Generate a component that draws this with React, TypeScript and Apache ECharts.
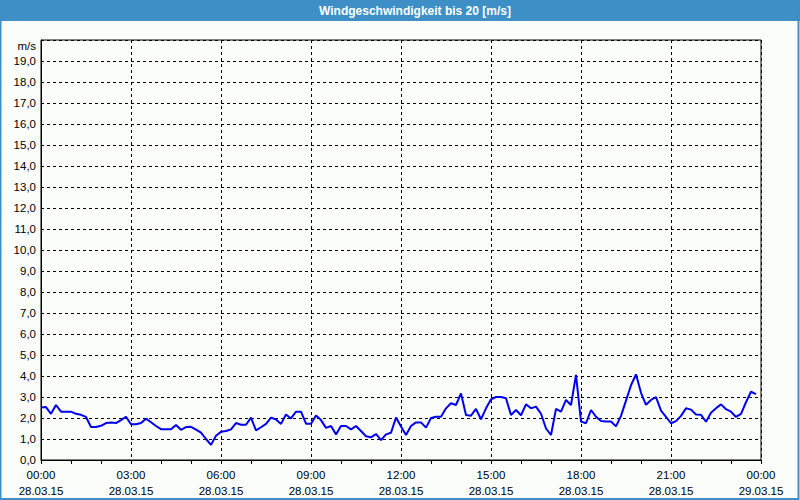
import React, { useEffect, useRef } from "react";
import * as echarts from "echarts";

const TITLE = "Windgeschwindigkeit bis 20 [m/s]";
const UNIT = "m/s";
const STEP_MINUTES = 10;
const X_TICK_TIMES = ["00:00", "03:00", "06:00", "09:00", "12:00", "15:00", "18:00", "21:00", "00:00"];
const X_TICK_DATES = ["28.03.15", "28.03.15", "28.03.15", "28.03.15", "28.03.15", "28.03.15", "28.03.15", "28.03.15", "29.03.15"];

// wind speed (m/s) every 10 minutes from 28.03.15 00:00
const windSpeed = [
  2.5, 2.52, 2.2, 2.62, 2.3, 2.3, 2.3, 2.2, 2.15, 2.05,
  1.57, 1.57, 1.63, 1.76, 1.78, 1.76, 1.9, 2.06, 1.7, 1.7,
  1.76, 1.97, 1.8, 1.62, 1.47, 1.46, 1.46, 1.67, 1.44, 1.57,
  1.58, 1.45, 1.3, 1.0, 0.72, 1.15, 1.35, 1.38, 1.46, 1.76,
  1.68, 1.68, 2.02, 1.41, 1.56, 1.72, 2.02, 1.93, 1.72, 2.17,
  1.98, 2.3, 2.3, 1.73, 1.73, 2.12, 1.9, 1.53, 1.62, 1.22,
  1.62, 1.62, 1.46, 1.62, 1.38, 1.13, 1.08, 1.24, 0.95, 1.22,
  1.3, 2.02, 1.6, 1.19, 1.62, 1.79, 1.79, 1.54, 2.0, 2.06,
  2.06, 2.46, 2.7, 2.62, 3.17, 2.14, 2.11, 2.43, 1.94, 2.46,
  2.89, 3.0, 3.0, 2.94, 2.14, 2.38, 2.13, 2.65, 2.46, 2.54,
  2.2, 1.5, 1.19, 2.43, 2.3, 2.86, 2.62, 4.05, 1.83, 1.75,
  2.38, 2.06, 1.86, 1.83, 1.83, 1.6, 2.1, 2.83, 3.56, 4.08,
  3.2, 2.63, 2.86, 3.0, 2.35, 2.05, 1.75, 1.85, 2.1, 2.46,
  2.4, 2.17, 2.15, 1.82, 2.25, 2.46, 2.65, 2.42, 2.3, 2.05,
  2.2, 2.75, 3.25, 3.14,
];

const FONT = "Liberation Sans";

export default function App() {
  const ref = useRef<HTMLDivElement>(null);
  useEffect(() => {
    if (!ref.current) return;
    const chart = echarts.init(ref.current, null, { renderer: "svg" });
    const data = windSpeed.map((v, i) => [i * STEP_MINUTES, v]);
    chart.setOption({
      animation: false,
      backgroundColor: "#fbfdfb",
      grid: {
        left: 41,
        top: 40,
        right: 39,
        bottom: 40,
        show: true,
        borderColor: "#000",
        borderWidth: 1,
        backgroundColor: "transparent",
      },
      graphic: [
        {
          type: "rect",
          shape: { x: 0, y: 0, width: 800, height: 21 },
          style: { fill: "#3d8fc6" },
          silent: true,
        },
        {
          type: "rect",
          shape: { x: 0.5, y: 0.5, width: 798, height: 498.5 },
          style: { fill: "none", stroke: "#3d8fc6", lineWidth: 2 },
          silent: true,
        },
        {
          type: "text",
          x: 415,
          y: 11,
          style: {
            text: TITLE,
            fill: "#ffffff",
            font: `bold 12px "${FONT}"`,
            textAlign: "center",
            textVerticalAlign: "middle",
          },
          silent: true,
        },
        {
          type: "text",
          x: 36,
          y: 46,
          style: {
            text: UNIT,
            fill: "#000",
            font: `11.5px "${FONT}"`,
            textAlign: "right",
            textVerticalAlign: "middle",
          },
          silent: true,
        },
      ],
      xAxis: {
        type: "value",
        min: 0,
        max: 1440,
        interval: 180,
        axisLine: { show: true, lineStyle: { color: "#000", width: 1 } },
        axisTick: { show: true, inside: false, length: 4, lineStyle: { color: "#000" } },
        minorTick: { show: true, splitNumber: 3, length: 4, lineStyle: { color: "#000" } },
        splitLine: { show: true, lineStyle: { color: "#000", type: [3, 3], width: 1 } },
        axisLabel: {
          margin: 7,
          color: "#000",
          fontFamily: FONT,
          fontSize: 11.5,
          lineHeight: 16,
          formatter: (v: number) => {
            const i = Math.round(v / 180);
            return `${X_TICK_TIMES[i]}\n${X_TICK_DATES[i]}`;
          },
        },
      },
      yAxis: {
        type: "value",
        min: 0,
        max: 20,
        interval: 1,
        axisLine: { show: true, lineStyle: { color: "#000", width: 1 } },
        axisTick: { show: false },
        splitLine: { show: true, lineStyle: { color: "#000", type: [3, 3], width: 1 } },
        axisLabel: {
          margin: 5,
          color: "#000",
          fontFamily: FONT,
          fontSize: 11.5,
          formatter: (v: number) => (v >= 20 ? "" : v.toFixed(1).replace(".", ",")),
        },
      },
      series: [
        {
          type: "line",
          data,
          showSymbol: false,
          symbol: "none",
          lineStyle: { color: "#0000ee", width: 2 },
          z: 5,
        },
      ],
    });
    return () => chart.dispose();
  }, []);
  return (
    <div
      ref={ref}
      style={{ position: "fixed", left: 0, top: 0, width: 800, height: 500 }}
    />
  );
}
